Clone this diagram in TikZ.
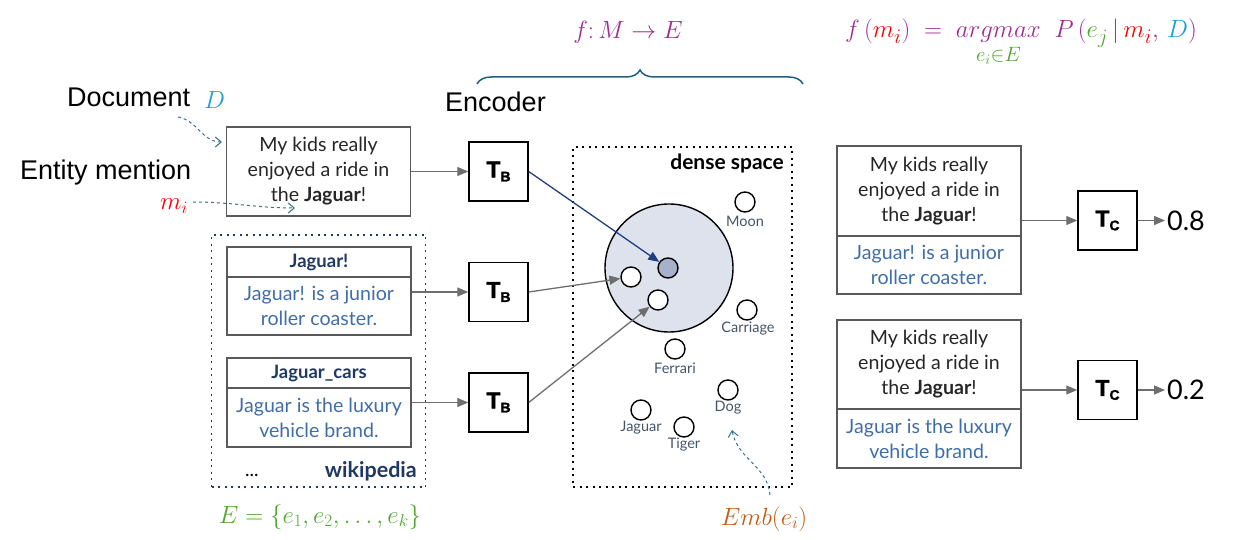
\documentclass[tikz,border=0pt]{standalone}
\usepackage{amsmath}
\usepackage{fontspec}
\setmainfont{Lato}
\newfontfamily\lab{Liberation Sans}
\newfontfamily\heavy[FakeBold=1.6]{Liberation Sans Bold}
\usetikzlibrary{arrows.meta,positioning,decorations.pathreplacing,calc}
\definecolor{boxgray}{HTML}{595959}
\definecolor{txtblue}{HTML}{3F6DAA}
\definecolor{navy}{HTML}{1F3864}
\definecolor{mpurple}{HTML}{A02B93}
\definecolor{mred}{HTML}{FF0000}
\definecolor{mblue}{HTML}{1A9FD9}
\definecolor{mgreen}{HTML}{4EA72E}
\definecolor{morange}{HTML}{C55A11}
\definecolor{bracecol}{HTML}{1F6082}
\definecolor{dashcol}{HTML}{3A7090}
\definecolor{arrowblue}{HTML}{1F3F7F}
\definecolor{labgray}{HTML}{44546A}
\definecolor{bigfill}{HTML}{DEE2EC}
\definecolor{dotfill}{HTML}{A6B2CB}
\definecolor{conngray}{HTML}{6E6E6E}
\tikzset{
  tbox/.style={draw=boxgray, line width=1.4pt, minimum width=184pt, align=center, inner sep=0pt,
    font=\fontsize{19.6}{25}\selectfont, text=black!85},
  hbox/.style={tbox, minimum height=30pt, font=\bfseries\fontsize{18.5}{20}\selectfont, text=navy},
  bbox/.style={tbox, text=txtblue},
  enc/.style={draw=black, line width=1.4pt, minimum size=59pt, inner sep=0pt,
    font=\heavy\fontsize{23}{23}\selectfont},
  conn/.style={draw=conngray, line width=1.3pt, -{Triangle[length=11pt,width=9pt]}},
  bconn/.style={draw=arrowblue, line width=1.3pt, -{Triangle[length=11pt,width=9pt]}},
  emb/.style={circle, draw=black, line width=1.4pt, minimum size=20pt, inner sep=0pt, fill=white},
  emblab/.style={font=\fontsize{14.5}{14.5}\selectfont, text=labgray, inner sep=0pt},
  dashconn/.style={draw=dashcol, dashed, line width=1pt, -{Straight Barb[length=6pt,width=10pt]}},
  dotbox/.style={line width=1.6pt, dash pattern=on 2pt off 4.5pt, inner sep=0pt},
  biglab/.style={font=\lab\fontsize{27}{27}\selectfont, inner sep=0pt},
  mathlab/.style={font=\fontsize{25}{25}\selectfont, inner sep=0pt},
}
\newcommand{\TT}[1]{T\raisebox{-4pt}{\fontsize{14}{14}\selectfont #1}}
\begin{document}
\begin{tikzpicture}[x=1pt,y=-1pt]
\useasboundingbox (0,0) rectangle (1235,540);
% top formulas
\node[mathlab, text=mpurple, anchor=base] (fmap) at (628,39) {$f{:}\,M \rightarrow E$};
\node[mathlab, font=\fontsize{29}{29}\selectfont, text=mpurple, anchor=base west] (form) at (845,38)
  {$f\,(\textcolor{mred}{m_i})\;=\;\underset{\textcolor{mgreen}{e_i{\in} E}}{argmax}\;\; P\,(\textcolor{mgreen}{e_j}\,|\,\textcolor{mred}{m_i},\,\textcolor{mblue}{D})$};
% brace
\coordinate (brl) at (477,84);
\coordinate (brr) at (803,84);
\draw[bracecol, line width=1.5pt, decorate, decoration={brace, amplitude=14pt}] (brl) -- (brr);
% left labels
\node[biglab, anchor=base west] (doclab) at (67,107) {Document};
\node[mathlab, text=mblue, anchor=base west] (Dlab) at (204,109) {$D$};
\node[biglab, anchor=base west] (entlab) at (20,180) {Entity mention};
\node[mathlab, text=mred, anchor=base west] (milab) at (160,210) {$m_i$};
\node[biglab, anchor=base west] (enclab) at (445,112) {Encoder};
% document box
\node[tbox, minimum height=89pt] (doc) at (318.5,171.5) {My kids really\\enjoyed a ride in\\the \textbf{Jaguar}!};
\coordinate (d1) at (178,117);
\coordinate (d2) at (222,142);
\draw[dashconn] (d1) to[out=-10,in=180] (d2);
\coordinate (m1) at (193,202);
\coordinate (m2) at (295,208);
\draw[dashconn] (m1) to[out=0,in=180] (m2);
% wikipedia
\node[draw=navy, dotbox, minimum width=214pt, minimum height=252pt] (wiki) at (318.5,361) {};
\node[hbox] (h1) at (319,262) {Jaguar!};
\node[bbox, minimum height=58pt] (b1) at (319,306) {Jaguar! is a junior\\roller coaster.};
\node[hbox] (h2) at (319,373) {Jaguar\_cars};
\node[bbox, minimum height=59pt] (b2) at (319,417.5) {Jaguar is the luxury\\vehicle brand.};
\node[anchor=base west, font=\fontsize{19}{19}\selectfont, inner sep=0pt] (dots) at (245,476) {...};
\node[anchor=base east, font=\bfseries\fontsize{21.5}{21.5}\selectfont, text=navy, inner sep=0pt] (wl) at (417,477) {wikipedia};
\node[mathlab, text=mgreen] (Eset) at (320,517) {$E=\{e_1,e_2,\dots,e_k\}$};
% encoders
\node[enc] (tb1) at (498.5,171.5) {\TT{B}};
\node[enc] (tb2) at (498.5,292) {\TT{B}};
\node[enc] (tb3) at (498.5,402.5) {\TT{B}};
\draw[conn] (doc.east |- tb1) -- (tb1.west);
\draw[conn] (b1.east |- tb2) -- (tb2.west);
\draw[conn] (b2.east |- tb3) -- (tb3.west);
% dense space
\node[draw=black, dotbox, minimum width=219pt, minimum height=340pt] (dense) at (682.5,317) {};
\node[anchor=base east, font=\bfseries\fontsize{21}{21}\selectfont, inner sep=0pt] (dl) at (784,170) {dense space};
\node[circle, draw=black, fill=bigfill, line width=1.4pt, minimum size=128pt, inner sep=0pt] (big) at (669,268) {};
\node[emb, fill=dotfill] (dd) at (668,268) {};
\node[emb] (w1) at (631,277) {};
\node[emb] (w2) at (658,300) {};
\node[emb] (moon) at (745,202) {};
\node[emblab] (moonl) at (745,221) {Moon};
\node[emb] (carr) at (747,310) {};
\node[emblab] (carrl) at (748,329) {Carriage};
\node[emb] (ferr) at (675,349) {};
\node[emblab] (ferrl) at (675,368) {Ferrari};
\node[emb] (dog) at (728,390) {};
\node[emblab] (dogl) at (728,408) {Dog};
\node[emb] (jag) at (641,410) {};
\node[emblab] (jagl) at (641,428) {Jaguar};
\node[emb] (tig) at (684,427) {};
\node[emblab] (tigl) at (684,445) {Tiger};
\draw[bconn] (tb1.east) -- (dd);
\draw[conn] (tb2.east) -- (w1);
\draw[conn] (tb3.east) -- (w2);
\node[mathlab, text=morange, anchor=base] (emb) at (764,525) {$Emb(e_i)$};
\coordinate (e1) at (770,495);
\coordinate (e2) at (732,430);
\draw[dashconn] (e1) to[out=95,in=-80] (e2);
% right side
\node[tbox, minimum height=90pt] (A1) at (929,191) {My kids really\\enjoyed a ride in\\the \textbf{Jaguar}!};
\node[bbox, minimum height=58pt] (A2) at (929,265) {Jaguar! is a junior\\roller coaster.};
\node[tbox, minimum height=89pt] (B1) at (929,364.5) {My kids really\\enjoyed a ride in\\the \textbf{Jaguar}!};
\node[bbox, minimum height=59pt] (B2) at (929,438.5) {Jaguar is the luxury\\vehicle brand.};
\node[enc] (tc1) at (1107.5,220.5) {\TT{C}};
\node[enc] (tc2) at (1107.5,390) {\TT{C}};
\node[anchor=west, font=\fontsize{27}{27}\selectfont, inner sep=2pt] (o1) at (1165,220.5) {0.8};
\node[anchor=west, font=\fontsize{27}{27}\selectfont, inner sep=2pt] (o2) at (1165,390) {0.2};
\draw[conn] (A1.east |- tc1) -- (tc1.west);
\draw[conn] (B1.east |- tc2) -- (tc2.west);
\draw[conn] (tc1.east) -- (o1.west);
\draw[conn] (tc2.east) -- (o2.west);
\end{tikzpicture}
\end{document}
